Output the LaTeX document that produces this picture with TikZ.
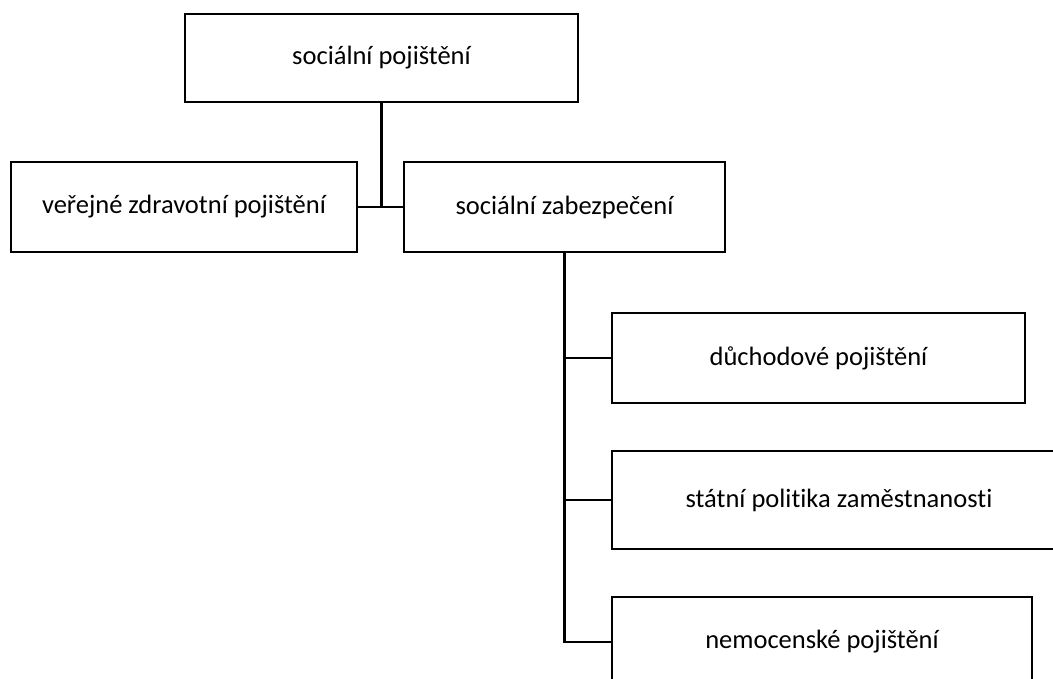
\documentclass[tikz,border=0pt]{standalone}
\usepackage{fontspec}
\setmainfont{Carlito}[RawFeature=-liga]
\begin{document}
\begin{tikzpicture}[x=1pt,y=-1pt,
  box/.style={draw, line width=2.8pt, inner sep=0pt, align=center,
    font=\fontsize{26.5}{32}\selectfont},
  conn/.style={line width=2.8pt}]
\clip (0,0) rectangle (1053,679);
\useasboundingbox (0,0) rectangle (1053,679);
\node[box, minimum width=393pt, minimum height=88pt] (top) at (381.5,58) {sociální pojištění};
\node[box, minimum width=346pt, minimum height=90pt] (vz) at (184,207) {veřejné zdravotní pojištění};
\node[box, minimum width=321pt, minimum height=90pt] (sz) at (564.5,207) {sociální zabezpečení};
\node[box, minimum width=413pt, minimum height=90pt] (duch) at (818.5,358) {důchodové pojištění};
\node[box, minimum width=454pt, minimum height=98pt] (stat) at (839,500) {státní politika zaměstnanosti};
\node[box, minimum width=420pt, minimum height=90pt] (nem) at (822,642) {nemocenské pojištění};
\draw[conn] (vz.east) -- (sz.west);
\draw[conn] (top.south) -- (top.south |- sz.west);
\draw[conn] (sz.south) |- (duch.west);
\draw[conn] (sz.south) |- (stat.west);
\draw[conn] (sz.south) |- (nem.west);
\end{tikzpicture}
\end{document}
